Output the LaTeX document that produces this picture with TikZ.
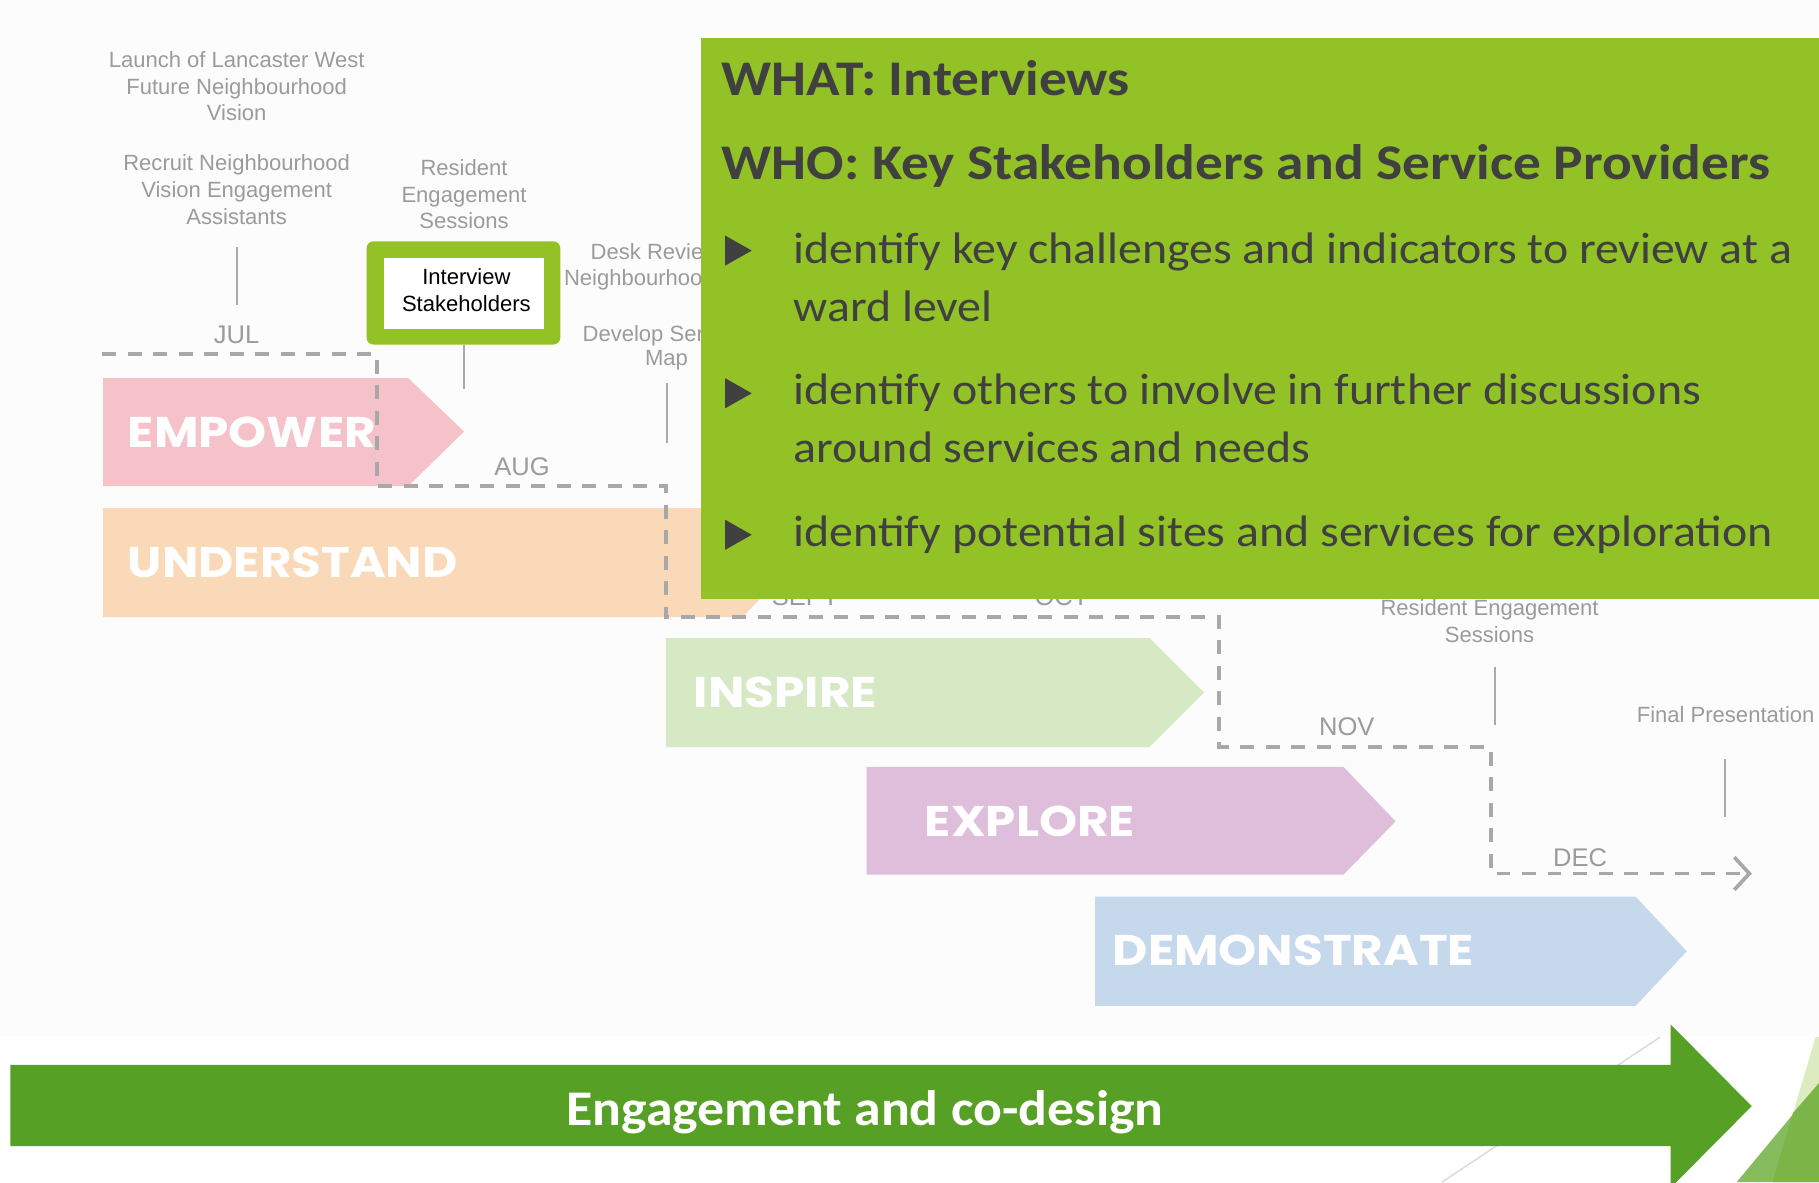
\documentclass[tikz,border=0pt]{standalone}
\usepackage{fontspec}
\setmainfont{Liberation Sans}
\newfontfamily\phasefont{Poppins}[FakeStretch=1.13]
\newfontfamily\headfont{Carlito}[FakeStretch=1.11]
\newfontfamily\bodyfont{Carlito}[FakeStretch=1.085]
\newfontfamily\engfont{Carlito}[FakeStretch=1.078]
\definecolor{boxgreen}{HTML}{92C225}
\definecolor{arrowgreen}{HTML}{56A025}
\definecolor{darktext}{HTML}{404040}
\definecolor{labelgray}{HTML}{9B9B9B}
\definecolor{dashgray}{HTML}{A8A8A8}
\definecolor{cpink}{HTML}{F5C2CA}
\definecolor{cpeach}{HTML}{FAD9B9}
\definecolor{cgreen}{HTML}{D7E8C5}
\definecolor{clav}{HTML}{DFBEDB}
\definecolor{cblue}{HTML}{C5D8EC}
\definecolor{trilight}{HTML}{DDEBC1}
\definecolor{tridark}{HTML}{7BB548}
\definecolor{trimid}{HTML}{86BB5E}
\definecolor{bgwhite}{HTML}{FCFCFC}
\begin{document}
\begin{tikzpicture}[x=1pt,y=-1pt,
  lbl/.style={font=\fontsize{19}{23}\selectfont, text=labelgray, align=center, inner sep=0pt},
  monthlbl/.style={font=\fontsize{22}{26}\selectfont, text=labelgray, inner sep=0pt, anchor=base},
  tickline/.style={draw=labelgray!85, line width=1.5pt},
  phasetxt/.style={inner sep=0pt, anchor=base west, text=white, font=\phasefont\bfseries\fontsize{37}{40}\selectfont},
  timeline/.style={draw=dashgray, line width=3.2pt, dash pattern=on 12pt off 10pt},
  headtxt/.style={inner sep=0pt, anchor=base west, text=darktext, font=\headfont\bfseries\fontsize{43}{48}\selectfont},
  bullettxt/.style={inner sep=0pt, anchor=base west, text=darktext, font=\bodyfont\fontsize{38}{48}\selectfont},
  bulletmark/.style={fill=darktext}
]
\useasboundingbox (0,0) rectangle (1568,1019);
\fill[white] (0,0) rectangle (1568,1019);
\fill[bgwhite] (0,0) rectangle (1568,893);

% phase arrows
\fill[cpink]  (89,326) -- (352,326) -- (400,372) -- (352,419) -- (89,419) -- cycle;
\fill[cpeach] (89,438) -- (640,438) -- (685,485) -- (640,532) -- (89,532) -- cycle;
\fill[cgreen] (574,550) -- (991,550) -- (1038,597) -- (991,644) -- (574,644) -- cycle;
\fill[clav]   (747,661) -- (1158,661) -- (1203,708) -- (1158,754) -- (747,754) -- cycle;
\fill[cblue]  (944,773) -- (1410,773) -- (1454,820) -- (1410,867) -- (944,867) -- cycle;

\node[phasetxt] (empower) at (110,385.5) {EMPOWER};
\node[phasetxt] (understand) at (110,498) {UNDERSTAND};
\node[phasetxt] (inspire) at (598,609.5) {INSPIRE};
\node[phasetxt] (explore) at (797,721) {EXPLORE};
\node[phasetxt] (demonstrate) at (959,832) {DEMONSTRATE};

% timeline
\draw[timeline] (88,305) -- (325,305) -- (325,419) -- (574,419) -- (574,532) -- (1051,532) -- (1051,644) -- (1285,644) -- (1285,753) -- (1504,753);
\draw[draw=dashgray, line width=3.2pt] (1495,739) -- (1508,753) -- (1495,767);

% labels
\node[lbl] (launch) at (204,74.5) {Launch of Lancaster West\\Future Neighbourhood\\Vision};
\node[lbl] (recruit) at (204,163.5) {Recruit Neighbourhood\\Vision Engagement\\Assistants};
\node[lbl] (resident) at (400,167.5) {Resident\\Engagement\\Sessions};
\node[lbl, anchor=base west] (desk1) at (509,224) {Desk Review};
\node[lbl, anchor=base west] (desk2) at (486,246) {Neighbourhood};
\node[lbl, anchor=base west] (develop) at (502,294) {Develop Service};
\node[lbl, anchor=base] (map) at (574.5,315) {Map};
\node[lbl] (resident2) at (1284,535.5) {Resident Engagement\\Sessions};
\node[lbl, anchor=base] (final) at (1487.5,623) {Final Presentation};

\node[monthlbl] (jul) at (204,296) {JUL};
\node[monthlbl] (aug) at (450,410) {AUG};
\node[monthlbl] (sept) at (694,522) {SEPT};
\node[monthlbl] (oct) at (915,522) {OCT};
\node[monthlbl] (nov) at (1161,634) {NOV};
\node[monthlbl] (dec) at (1362,747) {DEC};

\draw[tickline] (204,213) -- (204,263);
\draw[tickline] (400,297) -- (400,335);
\draw[tickline] (575,330) -- (575,382);
\draw[tickline] (1289,575) -- (1289,625);
\draw[tickline] (1487,654) -- (1487,704);

% highlighted interview box
\fill[boxgreen, rounded corners=6pt] (316,208) rectangle (483,297);
\fill[white] (331,222) rectangle (469,284);
\node[lbl, text=black] (interview) at (402,250) {Interview\\Stakeholders};

% green info box
\fill[boxgreen] (604,33) rectangle (1568,516);
\node[headtxt] (what) at (622,82) {WHAT: Interviews};
\node[headtxt] (who) at (622,155) {WHO: Key Stakeholders and Service Providers};
\fill[bulletmark] (625,203) -- (648,216) -- (625,229) -- cycle;
\fill[bulletmark] (625,326) -- (648,339) -- (625,352) -- cycle;
\fill[bulletmark] (625,448) -- (648,461) -- (625,474) -- cycle;
\node[bullettxt] (b1a) at (684,227) {identify key challenges and indicators to review at a};
\node[bullettxt] (b1b) at (684,277) {ward level};
\node[bullettxt] (b2a) at (684,349) {identify others to involve in further discussions};
\node[bullettxt] (b2b) at (684,399) {around services and needs};
\node[bullettxt] (b3) at (684,471) {identify potential sites and services for exploration};

% bottom decorations
\draw[draw=black!15, line width=1.2pt] (1243,1019) -- (1431,894);
\fill[arrowgreen] (9,918) -- (1440,918) -- (1440,883) -- (1510,953.5) -- (1440,1024) -- (1440,988) -- (9,988) -- cycle;
\node[inner sep=0pt, anchor=base west, text=white, font=\engfont\bfseries\fontsize{43}{48}\selectfont] (engage) at (488,970) {Engagement and co-design};

\fill[trilight] (1565,894) -- (1568,894) -- (1568,1019) -- (1528,1019) -- cycle;
\fill[trimid] (1568,933.6) -- (1568,1019) -- (1497,1019) -- cycle;
\fill[tridark] (1568,933.6) -- (1568,1019) -- (1528,1019) -- (1545.5,959.5) -- cycle;
\end{tikzpicture}
\end{document}
